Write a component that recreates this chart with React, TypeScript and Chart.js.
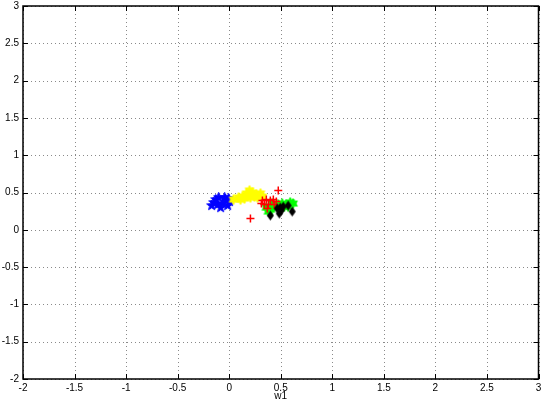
import React, { useEffect, useRef } from "react";
import { Chart, registerables } from "chart.js";

Chart.register(...registerables);

const blueX = [-0.17, -0.131, -0.102, -0.064, -0.035, -0.015, 0.004, -0.083, -0.15, -0.044, -0.112, -0.006];
const blueY = [0.325, 0.406, 0.433, 0.352, 0.406, 0.325, 0.379, 0.298, 0.366, 0.433, 0.339, 0.419];

const yellowX = [0.042, 0.11, 0.129, 0.168, 0.197, 0.225, 0.245, 0.264, 0.303, 0.322, 0.148, 0.206, 0.187, 0.274, 0.091];
const yellowY = [0.406, 0.406, 0.446, 0.487, 0.527, 0.5, 0.446, 0.473, 0.487, 0.446, 0.419, 0.433, 0.46, 0.433, 0.433];

const redX = [0.476, 0.206, 0.322, 0.36, 0.399, 0.428, 0.341, 0.38, 0.437, 0.312, 0.457, 0.37];
const redY = [0.527, 0.151, 0.392, 0.406, 0.392, 0.406, 0.339, 0.339, 0.339, 0.352, 0.379, 0.285];

const greenX = [0.36, 0.399, 0.437, 0.476, 0.514, 0.553, 0.592, 0.62, 0.418, 0.38, 0.534, 0.572];
const greenY = [0.298, 0.271, 0.312, 0.339, 0.352, 0.339, 0.366, 0.352, 0.352, 0.245, 0.312, 0.312];

const blackX = [0.399, 0.486, 0.495, 0.505, 0.572, 0.611, 0.524, 0.466];
const blackY = [0.191, 0.218, 0.298, 0.258, 0.325, 0.245, 0.312, 0.285];

const tickValues = [-2, -1.5, -1, -0.5, 0, 0.5, 1, 1.5, 2, 2.5, 3];
const xLabel = "w1";

function pts(xs: number[], ys: number[]) {
  return xs.map((x, i) => ({ x, y: ys[i] }));
}

function starImage(color: string, n: number, outer: number, inner: number) {
  const size = Math.ceil(outer * 2 + 2);
  const c = document.createElement("canvas");
  c.width = size;
  c.height = size;
  const ctx = c.getContext("2d")!;
  const cx = size / 2, cy = size / 2;
  ctx.beginPath();
  for (let i = 0; i < n * 2; i++) {
    const r = i % 2 === 0 ? outer : inner;
    const a = -Math.PI / 2 + (i * Math.PI) / n;
    const px = cx + r * Math.cos(a), py = cy + r * Math.sin(a);
    if (i === 0) ctx.moveTo(px, py); else ctx.lineTo(px, py);
  }
  ctx.closePath();
  ctx.fillStyle = color;
  ctx.fill();
  ctx.strokeStyle = color;
  ctx.lineWidth = 1;
  ctx.stroke();
  return c;
}

function diamondImage(color: string, w: number, h: number) {
  const c = document.createElement("canvas");
  c.width = w + 2;
  c.height = h + 2;
  const ctx = c.getContext("2d")!;
  const cx = c.width / 2, cy = c.height / 2;
  ctx.beginPath();
  ctx.moveTo(cx, cy - h / 2);
  ctx.lineTo(cx + w / 2, cy);
  ctx.lineTo(cx, cy + h / 2);
  ctx.lineTo(cx - w / 2, cy);
  ctx.closePath();
  ctx.fillStyle = color;
  ctx.fill();
  return c;
}

const framePlugin = {
  id: "frame",
  beforeDatasetsDraw(chart: any) {
    const { ctx, chartArea: a, scales } = chart;
    ctx.save();
    ctx.strokeStyle = "#8a8a8a";
    ctx.lineWidth = 1;
    ctx.setLineDash([1, 3]);
    tickValues.forEach((v) => {
      const x = Math.round(scales.x.getPixelForValue(v)) + 0.5;
      const y = Math.round(scales.y.getPixelForValue(v)) + 0.5;
      ctx.beginPath();
      ctx.moveTo(x, a.top);
      ctx.lineTo(x, a.bottom);
      ctx.stroke();
      ctx.beginPath();
      ctx.moveTo(a.left, y);
      ctx.lineTo(a.right, y);
      ctx.stroke();
    });
    ctx.restore();
  },
  afterDatasetsDraw(chart: any) {
    const { ctx, chartArea: a, scales } = chart;
    ctx.save();
    ctx.strokeStyle = "#000";
    ctx.lineWidth = 1;
    ctx.setLineDash([]);
    const tl = 5;
    tickValues.forEach((v) => {
      const x = Math.round(scales.x.getPixelForValue(v)) + 0.5;
      const y = Math.round(scales.y.getPixelForValue(v)) + 0.5;
      ctx.beginPath();
      ctx.moveTo(x, a.bottom);
      ctx.lineTo(x, a.bottom - tl);
      ctx.moveTo(x, a.top);
      ctx.lineTo(x, a.top + tl);
      ctx.moveTo(a.left, y);
      ctx.lineTo(a.left + tl, y);
      ctx.moveTo(a.right, y);
      ctx.lineTo(a.right - tl, y);
      ctx.stroke();
    });
    ctx.lineWidth = 1.5;
    ctx.strokeRect(a.left, a.top, a.right - a.left, a.bottom - a.top);
    ctx.restore();
  },
};

const fmt = (v: any) => String(Number(v));

export default function App() {
  const ref = useRef<HTMLCanvasElement>(null);
  useEffect(() => {
    document.body.style.margin = "0";
    const pent = starImage("#0000ff", 5, 5.2, 2.2);
    const hexY = starImage("#ffff00", 6, 5, 2.8);
    const hexG = starImage("#00ff00", 6, 5, 2.8);
    const diam = diamondImage("#000000", 7, 10);
    const chart = new Chart(ref.current!, {
      type: "scatter",
      data: {
        datasets: [
          { label: "blue", data: pts(blueX, blueY), pointStyle: pent as any, order: 5 },
          { label: "yellow", data: pts(yellowX, yellowY), pointStyle: hexY as any, order: 4 },
          { label: "green", data: pts(greenX, greenY), pointStyle: hexG as any, order: 3 },
          {
            label: "red",
            data: pts(redX, redY),
            pointStyle: "cross",
            pointRadius: 4,
            borderColor: "#ff0000",
            borderWidth: 1.5,
            order: 2,
          },
          { label: "black", data: pts(blackX, blackY), pointStyle: diam as any, order: 1 },
        ],
      },
      options: {
        responsive: false,
        animation: false,
        layout: { padding: { top: 6, right: 1, left: 0, bottom: 0 } },
        plugins: { legend: { display: false }, tooltip: { enabled: false } },
        scales: {
          x: {
            type: "linear",
            min: -2,
            max: 3,
            afterBuildTicks: (s: any) => {
              s.ticks = tickValues.map((v) => ({ value: v }));
            },
            afterFit: (s: any) => {
              s.height = 23;
              s.paddingLeft = 0;
              s.paddingRight = 0;
            },
            grid: { display: false, drawTicks: false },
            border: { display: false },
            ticks: {
              padding: 3,
              color: "#000",
              font: { family: "Liberation Sans", size: 10 },
              maxRotation: 0,
              autoSkip: false,
              callback: fmt,
            },
            title: {
              display: true,
              text: xLabel,
              color: "#000",
              font: { family: "Liberation Sans", size: 10 },
              padding: { top: 0, bottom: 0 },
            },
          },
          y: {
            type: "linear",
            min: -2,
            max: 3,
            afterBuildTicks: (s: any) => {
              s.ticks = tickValues.map((v) => ({ value: v }));
            },
            afterFit: (s: any) => {
              s.width = 23;
              s.paddingTop = 0;
              s.paddingBottom = 0;
            },
            grid: { display: false, drawTicks: false },
            border: { display: false },
            ticks: {
              padding: 4,
              color: "#000",
              font: { family: "Liberation Sans", size: 10 },
              autoSkip: false,
              callback: fmt,
            },
          },
        },
      },
      plugins: [framePlugin],
    });
    return () => chart.destroy();
  }, []);
  return <canvas ref={ref} width={544} height={402} style={{ display: "block" }} />;
}
